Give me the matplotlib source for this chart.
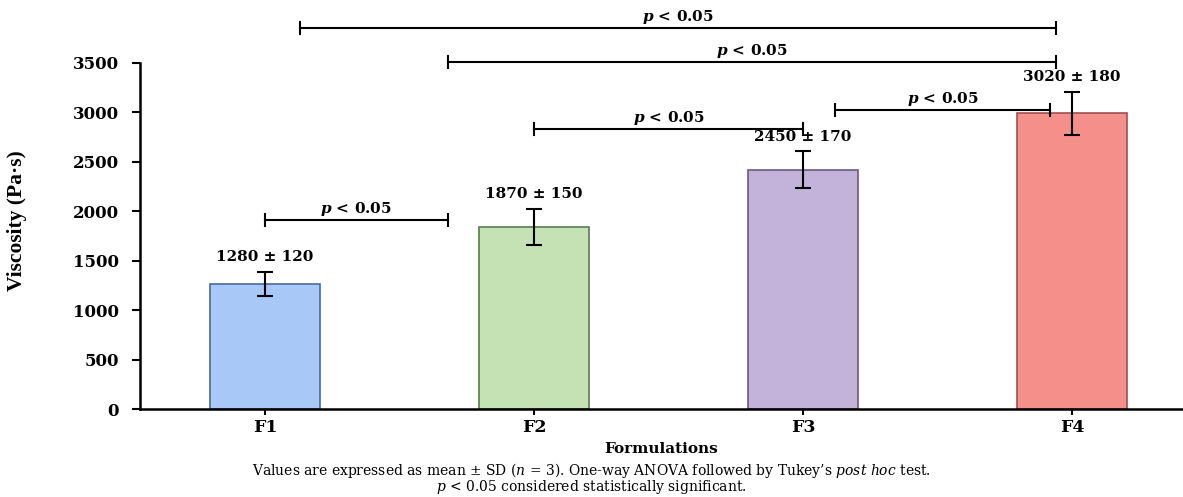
import matplotlib
matplotlib.use("Agg")
import matplotlib.pyplot as plt
import numpy as np

# ---- data ----
categories = ["F1", "F2", "F3", "F4"]
means = [1265, 1840, 2420, 2990]
errors = [125, 185, 185, 220]
value_labels = ["1280 ± 120", "1870 ± 150", "2450 ± 170", "3020 ± 180"]
bar_colors = ["#a8c8f8", "#c5e2b5", "#c3b3db", "#f48f8a"]
edge_colors = ["#4a6b9a", "#5a7a50", "#6a5a80", "#a05050"]

# significance brackets (x in category units, y in Pa·s)
bracket_x1 = [0.0, 1.0, 2.12, 0.68, 0.13]
bracket_x2 = [0.68, 2.0, 2.92, 2.94, 2.94]
bracket_y = [1912, 2832, 3025, 3507, 3851]
bracket_label = r"$\mathbfit{p}$ < 0.05"

yticks = [0, 500, 1000, 1500, 2000, 2500, 3000, 3500]

plt.rcParams["font.family"] = ["DejaVu Serif"]
plt.rcParams["mathtext.fontset"] = "custom"
plt.rcParams["mathtext.rm"] = "DejaVu Serif"
plt.rcParams["mathtext.it"] = "DejaVu Serif:italic"
plt.rcParams["mathtext.bf"] = "DejaVu Serif:bold"
plt.rcParams["mathtext.bfit"] = "DejaVu Serif:italic:bold"

fig = plt.figure(figsize=(11.83, 4.97), dpi=100)
ax = fig.add_axes([140 / 1183, 88 / 497, 1043 / 1183, 346 / 497])

x = np.arange(len(categories))
ax.bar(x, means, width=0.409, color=bar_colors, edgecolor=edge_colors, linewidth=1.2, zorder=2)
ax.errorbar(x, means, yerr=errors, fmt="none", ecolor="black", elinewidth=1.5,
            capsize=6, capthick=1.5, zorder=3)

for xi, m, e, lab in zip(x, means, errors, value_labels):
    ax.text(xi, m + e + 150, lab, ha="center", va="center", fontsize=11,
            fontweight="bold", clip_on=False)

tick_h = 60
for x1, x2, y in zip(bracket_x1, bracket_x2, bracket_y):
    ax.plot([x1, x2], [y, y], color="black", lw=1.5, clip_on=False, zorder=4)
    ax.plot([x1, x1], [y - tick_h, y + tick_h], color="black", lw=1.5, clip_on=False, zorder=4)
    ax.plot([x2, x2], [y - tick_h, y + tick_h], color="black", lw=1.5, clip_on=False, zorder=4)
    ax.text((x1 + x2) / 2, y + 110, bracket_label, ha="center", va="center",
            fontsize=11, fontweight="bold", clip_on=False)

ax.set_xlim(-0.4647, 3.4126)
ax.set_ylim(0, 3500)
ax.set_xticks(x)
ax.set_xticklabels(categories, fontsize=12.5, fontweight="bold")
ax.set_yticks(yticks)
ax.set_yticklabels([str(v) for v in yticks], fontsize=12, fontweight="bold")
ax.tick_params(axis="y", length=6, width=1.5, pad=9)
ax.tick_params(axis="x", length=4, width=1.5, pad=3)

for s in ["top", "right"]:
    ax.spines[s].set_visible(False)
ax.spines["left"].set_linewidth(1.8)
ax.spines["bottom"].set_linewidth(1.8)
ax.spines["left"].set_bounds(0, 3500)

ax.set_ylabel("Viscosity (Pa·s)", fontsize=15.5, fontweight="bold", family="Liberation Serif")
ax.yaxis.set_label_coords(-0.108, 0.545)
ax.set_xlabel("Formulations", fontsize=11, fontweight="bold")
ax.xaxis.set_label_coords(0.5, -0.095)

fig.text(0.5, 0.0543,
         r"Values are expressed as mean ± SD ($n$ = 3). One-way ANOVA followed by Tukey’s $\mathit{post\ hoc}$ test.",
         ha="center", va="center", fontsize=10)
fig.text(0.5, 0.0201, r"$p$ < 0.05 considered statistically significant.",
         ha="center", va="center", fontsize=10)

fig.savefig("out.png", dpi=100)
